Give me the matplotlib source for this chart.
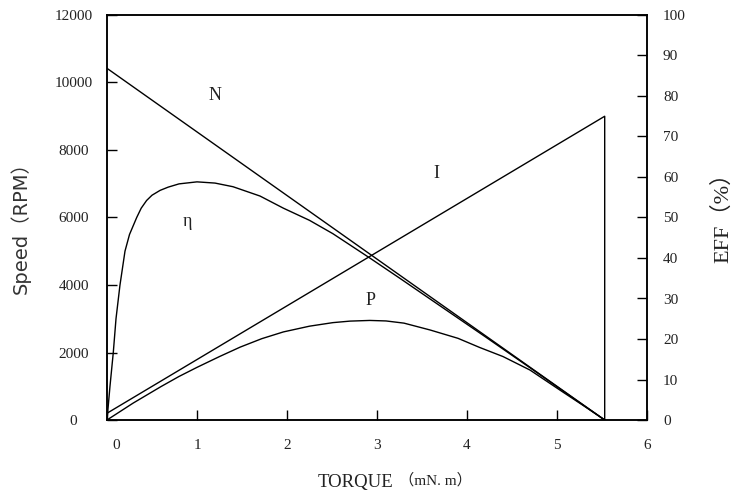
import matplotlib
matplotlib.use("Agg")
import matplotlib.pyplot as plt
from matplotlib.transforms import ScaledTranslation

# values (left axis units = RPM, right axis = %)
torque_n = [0, 5.53]
speed = [10420, 0]

torque_i = [0, 5.53, 5.53]
current = [200, 9000, 0]

torque_p = [0, 0.29, 0.6, 0.8, 1.0, 1.25, 1.48, 1.72, 1.96, 2.25, 2.51, 2.7, 2.92,
            3.1, 3.3, 3.59, 3.9, 4.14, 4.4, 4.7, 5.07, 5.3, 5.53]
power = [0, 500, 990, 1290, 1560, 1880, 2160, 2410, 2610, 2780, 2885, 2930, 2950,
         2935, 2870, 2667, 2420, 2150, 1880, 1480, 820, 415, 0]

torque_eff = [0, 0.033, 0.07, 0.1, 0.144, 0.2, 0.25, 0.33, 0.38, 0.44, 0.5, 0.59, 0.68,
              0.8, 1.0, 1.2, 1.4, 1.7, 1.96, 2.25, 2.51, 2.92, 3.26, 3.7, 4.2, 4.7, 5.2, 5.53]
eff = [0, 8.3, 16.7, 25.0, 33.3, 41.7, 45.8, 50.0, 52.3, 54.2, 55.5, 56.7, 57.5,
       58.3, 58.8, 58.5, 57.6, 55.3, 52.3, 49.3, 46.0, 40.0, 34.9, 28.2, 20.6, 12.9, 5.1, 0]

x_ticks = [0, 1, 2, 3, 4, 5, 6]
speed_ticks = [0, 2000, 4000, 6000, 8000, 10000, 12000]
eff_ticks = [0, 10, 20, 30, 40, 50, 60, 70, 80, 90, 100]

plt.rcParams['font.family'] = ['Liberation Serif', 'Noto Sans CJK SC']

fig = plt.figure(figsize=(7.34, 4.9), dpi=100)
ax = fig.add_axes([107 / 734, 70 / 490, 540 / 734, 405 / 490])
ax2 = ax.twinx()

lc = 'black'
ax.plot(torque_n, speed, color=lc, lw=1.0)
ax.plot(torque_i, current, color=lc, lw=1.0)
ax.plot(torque_p, power, color=lc, lw=1.0)
ax2.plot(torque_eff, eff, color=lc, lw=1.0)

ax.set_xlim(0, 6)
ax.set_ylim(0, 12000)
ax2.set_ylim(0, 100)
ax.set_xticks(x_ticks)
ax.set_yticks(speed_ticks)
ax2.set_yticks(eff_ticks)

tc = '#222222'
ax.tick_params(axis='x', direction='in', length=7, width=1, pad=14, labelsize=11,
               labelcolor=tc, top=False)
ax.tick_params(axis='y', direction='in', length=7, width=1, pad=24, labelsize=11,
               labelcolor=tc, right=False)
ax2.tick_params(axis='y', direction='in', length=7, width=1, pad=11.5, labelsize=11,
                labelcolor=tc, left=False)
ax2.tick_params(axis='x', top=False, bottom=False)
for lab in ax.get_yticklabels():
    lab.set_ha('center')

# the "0" under the x axis sits a bit to the right in the original
lab0 = ax.get_xticklabels()[0]
lab0.set_transform(lab0.get_transform() + ScaledTranslation(0.09, 0, fig.dpi_scale_trans))

for sp in ax.spines.values():
    sp.set_linewidth(1.1)
for sp in ax2.spines.values():
    sp.set_linewidth(1.1)

# curve names
ax.text(1.2, 9600, 'N', ha='center', va='center', fontsize=13, color=tc)
ax.text(3.66, 7290, 'I', ha='center', va='center', fontsize=13, color=tc)
ax.text(0.89, 5870, 'η', ha='center', va='center', fontsize=13, color=tc)
ax.text(2.93, 3530, 'P', ha='center', va='center', fontsize=13, color=tc)

# axis titles
fig.text(20 / 734, 1 - 223 / 490, 'Speed（RPM）', rotation=90, ha='center', va='center',
         fontsize=14, color='#333333', family=['DejaVu Sans', 'Noto Sans CJK SC'])
fig.text(723 / 734, 1 - 212 / 490, 'EFF（%）', rotation=90, ha='center', va='center',
         fontsize=16, color=tc)
fig.text(356 / 734, 3 / 490, 'TORQUE', ha='center', va='baseline', fontsize=13.5, color=tc)
fig.text(399 / 734, 5 / 490, '（mN. m）', ha='left', va='baseline', fontsize=11, color=tc)

fig.savefig('out.png', dpi=100)
